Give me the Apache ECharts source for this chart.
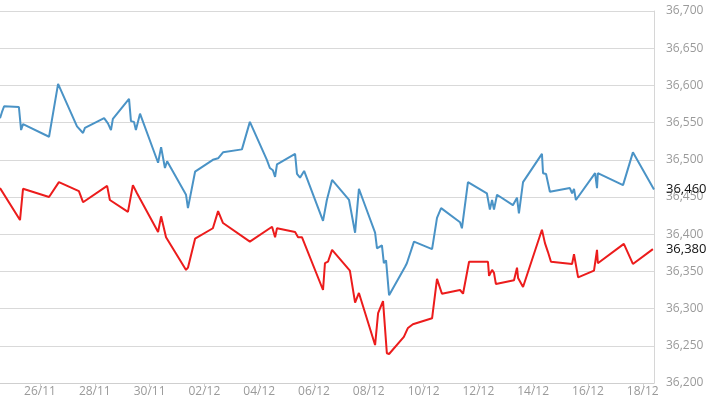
<!DOCTYPE html>
<html>
<head>
<meta charset="utf-8">
<title>chart</title>
<script src="https://cdn.jsdelivr.net/npm/echarts@6/dist/echarts.min.js"></script>
<style>
  html, body { margin: 0; padding: 0; background: #fff; }
  #myChart { width: 710px; height: 399px; }
</style>
</head>
<body>
<div id="myChart"></div>
<script>
// x = days from 26/11 00:00
var dayLabels = ['26/11', '28/11', '30/11', '02/12', '04/12', '06/12', '08/12', '10/12', '12/12', '14/12', '16/12', '18/12']
var labelDays = [0, 2, 4, 6, 8, 10, 12, 14, 16, 18, 20, 22]

var blueDays = [-1.46, -1.39, -1.31, -0.77, -0.69, -0.62, 0.33, 0.66, 1.35, 1.57, 1.64, 2.34, 2.48, 2.59, 2.66,
  3.25, 3.32, 3.43, 3.50, 3.65, 4.31, 4.42, 4.56, 4.64, 5.33, 5.40, 5.66, 6.31, 6.50, 6.68, 7.37, 7.66,
  8.28, 8.39, 8.50, 8.58, 8.65, 9.31, 9.38, 9.49, 9.64, 10.04, 10.33, 10.47, 10.66, 11.28, 11.50, 11.57,
  11.64, 11.79, 12.23, 12.30, 12.48, 12.55, 12.63, 12.74, 13.32, 13.39, 13.65, 14.31, 14.49, 14.64, 15.33,
  15.40, 15.62, 16.31, 16.42, 16.50, 16.57, 16.68, 17.26, 17.41, 17.48, 17.63, 18.32, 18.36, 18.47, 18.61,
  19.34, 19.42, 19.49, 19.56, 20.26, 20.33, 20.36, 21.28, 21.64, 22.41]
var blueValues = [36556, 36564, 36572, 36571, 36540, 36548, 36531, 36602, 36545, 36536, 36543, 36556, 36549, 36540, 36555,
  36582, 36552, 36551, 36540, 36562, 36496, 36517, 36489, 36498, 36453, 36435, 36484, 36500, 36502, 36510, 36514, 36551,
  36500, 36489, 36486, 36477, 36494, 36508, 36481, 36476, 36485, 36446, 36418, 36446, 36473, 36446, 36402, 36403,
  36461, 36446, 36402, 36381, 36385, 36361, 36365, 36318, 36356, 36361, 36390, 36380, 36422, 36435, 36416,
  36408, 36470, 36455, 36433, 36446, 36433, 36453, 36439, 36449, 36428, 36470, 36508, 36482, 36481, 36457,
  36462, 36455, 36461, 36446, 36482, 36462, 36482, 36466, 36510, 36460]

var redDays = [-1.46, -0.73, -0.62, 0.33, 0.69, 1.42, 1.57, 2.45, 2.55, 3.21, 3.39, 3.54, 4.31, 4.42, 4.49, 4.60,
  5.33, 5.40, 5.66, 6.31, 6.50, 6.68, 7.66, 8.47, 8.58, 8.65, 9.31, 9.42, 9.56, 10.33, 10.40, 10.51, 10.66,
  11.31, 11.50, 11.64, 12.23, 12.34, 12.52, 12.66, 12.74, 13.28, 13.43, 13.61, 14.31, 14.49, 14.67, 15.33,
  15.44, 15.66, 16.35, 16.39, 16.50, 16.57, 16.64, 17.30, 17.41, 17.45, 17.63, 18.32, 18.43, 18.54, 18.65,
  19.42, 19.49, 19.64, 20.22, 20.33, 20.36, 21.31, 21.64, 22.37]
var redValues = [36462, 36419, 36461, 36450, 36470, 36458, 36443, 36465, 36446, 36430, 36466, 36455, 36403, 36424, 36424, 36396,
  36352, 36355, 36394, 36408, 36431, 36415, 36390, 36410, 36396, 36408, 36403, 36396, 36396, 36325, 36361, 36363, 36379,
  36351, 36308, 36321, 36251, 36294, 36310, 36240, 36239, 36262, 36274, 36279, 36287, 36340, 36320, 36325,
  36320, 36363, 36363, 36344, 36352, 36348, 36333, 36338, 36355, 36341, 36329, 36406, 36388, 36376, 36363,
  36360, 36373, 36342, 36351, 36379, 36361, 36387, 36360, 36380]

function pairs (xs, ys) {
  return xs.map(function (x, i) { return [x, ys[i]] })
}
function fmt (v) {
  return String(Math.round(v)).replace(/\B(?=(\d{3})+(?!\d))/g, ',')
}

var myChart = echarts.init(document.getElementById('myChart'))
myChart.setOption({
  animation: false,
  grid: { left: 0, right: 56, top: 11, bottom: 16 },
  xAxis: {
    type: 'value',
    min: -1.46,
    max: 22.41,
    splitLine: { show: false },
    axisLine: { onZero: false, lineStyle: { color: '#cfcfcf' } },
    axisTick: { show: true, length: 4, lineStyle: { color: '#cfcfcf' }, customValues: labelDays },
    axisLabel: {
      color: '#9a9a9a',
      fontFamily: 'Open Sans',
      fontSize: 12,
      margin: 3,
      customValues: labelDays,
      formatter: function (v) { return dayLabels[labelDays.indexOf(Math.round(v))] || '' }
    }
  },
  yAxis: {
    type: 'value',
    position: 'right',
    min: 36200,
    max: 36700,
    interval: 50,
    axisLine: { show: true, onZero: false, lineStyle: { color: '#d6d6d6' } },
    axisTick: { show: false },
    splitLine: { lineStyle: { color: '#d9d9d9', width: 1 } },
    axisLabel: { color: '#9a9a9a', fontFamily: 'Open Sans', fontSize: 12, margin: 12, formatter: fmt }
  },
  series: [
    {
      type: 'line',
      data: pairs(blueDays, blueValues),
      showSymbol: false,
      lineStyle: { color: '#4a93c6', width: 2 },
      endLabel: {
        show: true, distance: 12, color: '#111', fontFamily: 'Open Sans', fontSize: 13,
        formatter: function (p) { return fmt(p.value[1]) }
      }
    },
    {
      type: 'line',
      data: pairs(redDays, redValues),
      showSymbol: false,
      lineStyle: { color: '#ec1c1c', width: 2 },
      endLabel: {
        show: true, distance: 13, color: '#111', fontFamily: 'Open Sans', fontSize: 13,
        formatter: function (p) { return fmt(p.value[1]) }
      }
    }
  ]
})
</script>
</body>
</html>
